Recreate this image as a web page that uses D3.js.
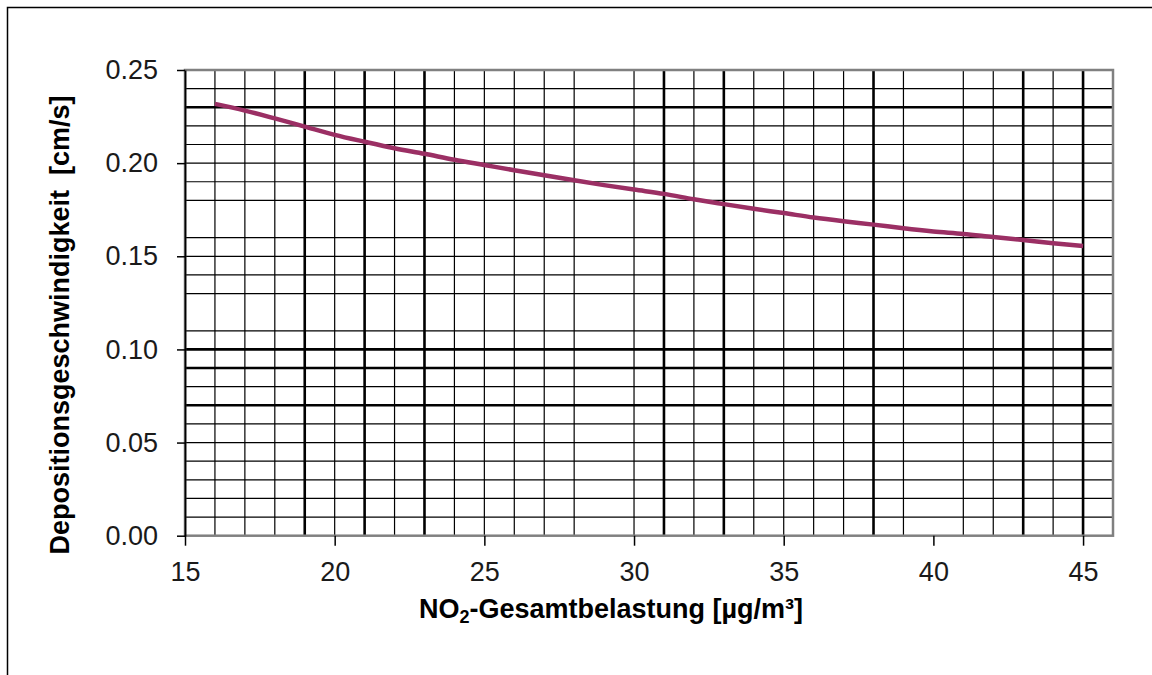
<!DOCTYPE html>
<html lang="de">
<head>
<meta charset="UTF-8">
<title>Depositionsgeschwindigkeit NO2</title>
<script src="https://d3js.org/d3.v7.min.js"></script>
<style>
  body { margin: 0; background: #fff; }
  svg { display: block; font-family: "Liberation Sans", Arial, sans-serif; }
  .tick text { font-size: 27px; fill: #1a1a1a; }
  .axis-title { font-size: 27px; font-weight: bold; fill: #000; }
</style>
</head>
<body>
<svg width="1152" height="675"></svg>
<script>
// NO2 total load [µg/m³] and deposition velocity [cm/s]
const no2 = [16, 17, 18, 19, 20, 21, 22, 23, 24, 25, 26, 27, 28, 29, 30,
             31, 32, 33, 34, 35, 36, 37, 38, 39, 40, 41, 42, 43, 44, 45];
const velocity = [0.2318, 0.2282, 0.2240, 0.2196, 0.2152, 0.2115, 0.2080, 0.2050, 0.2018, 0.1990,
                  0.1962, 0.1935, 0.1908, 0.1882, 0.1858, 0.1835, 0.1806, 0.1780, 0.1755, 0.1732,
                  0.1708, 0.1688, 0.1670, 0.1650, 0.1633, 0.1620, 0.1603, 0.1587, 0.1570, 0.1555];

const xTicks = [15, 20, 25, 30, 35, 40, 45];
const yTicks = [0, 0.05, 0.10, 0.15, 0.20, 0.25];

// grid lines as they appear in the scan (some missing, some heavier)
const xGrid = [16, 17, 18, 19, 20, 21, 22, 23, 24, 25, 26, 27, 28, 30, 31, 32, 33, 34, 35,
               36, 37, 38, 39, 41, 42, 43, 44, 45];
const xGridBold = [19, 21, 23, 31, 33, 38, 43, 45];
const yGrid = [0.01, 0.02, 0.03, 0.04, 0.05, 0.06, 0.07, 0.08, 0.09, 0.10, 0.11, 0.13, 0.14,
               0.15, 0.16, 0.18, 0.19, 0.20, 0.21, 0.22, 0.23, 0.24];
const yGridBold = [0.07, 0.09, 0.10, 0.23];

const svg = d3.select("svg");

// outer frame of the figure
svg.append("rect")
    .attr("x", 7.5).attr("y", 7.5)
    .attr("width", 1160).attr("height", 700)
    .attr("fill", "none")
    .attr("stroke", "#000")
    .attr("stroke-width", 1.5);

const x = d3.scaleLinear().domain([15, 46]).range([185, 1113]);
const y = d3.scaleLinear().domain([0, 0.25]).range([535.7, 70]);

const grid = svg.append("g");
grid.selectAll(".vgrid")
    .data(xGrid)
    .enter().append("line")
    .attr("x1", d => x(d)).attr("x2", d => x(d))
    .attr("y1", y(0)).attr("y2", y(0.25))
    .attr("stroke", "#000")
    .attr("stroke-width", d => xGridBold.includes(d) ? 2.6 : 1.2);

grid.selectAll(".hgrid")
    .data(yGrid)
    .enter().append("line")
    .attr("x1", x(15)).attr("x2", x(46))
    .attr("y1", d => y(d)).attr("y2", d => y(d))
    .attr("stroke", "#000")
    .attr("stroke-width", d => yGridBold.some(b => Math.abs(b - d) < 1e-9) ? 2.6 : 1.2);

// plot area border
svg.append("rect")
    .attr("x", x(15)).attr("y", y(0.25))
    .attr("width", x(46) - x(15)).attr("height", y(0) - y(0.25))
    .attr("fill", "none")
    .attr("stroke", "#808080")
    .attr("stroke-width", 2.5);

const xAxis = svg.append("g")
    .attr("transform", "translate(0," + y(0) + ")")
    .call(d3.axisBottom(x).tickValues(xTicks).tickSize(10).tickPadding(16).tickFormat(d3.format("d")));
xAxis.select(".domain").remove();
xAxis.selectAll(".tick line").attr("stroke", "#000").attr("stroke-width", 1.5);

const yAxis = svg.append("g")
    .attr("transform", "translate(" + x(15) + ",0)")
    .call(d3.axisLeft(y).tickValues(yTicks).tickSize(8).tickPadding(19).tickSizeOuter(0).tickFormat(d3.format(".2f")));
yAxis.select(".domain").attr("stroke", "#000").attr("stroke-width", 1.8);
yAxis.selectAll(".tick line").attr("stroke", "#000").attr("stroke-width", 1.5);

// curve
const line = d3.line()
    .x((d, i) => x(no2[i]))
    .y(d => y(d))
    .curve(d3.curveMonotoneX);

svg.append("path")
    .datum(velocity)
    .attr("d", line)
    .attr("fill", "none")
    .attr("stroke", "#9b2f64")
    .attr("stroke-width", 4.5)
    .attr("stroke-linecap", "butt");

// axis titles
const xt = svg.append("text")
    .attr("class", "axis-title")
    .attr("x", 611).attr("y", 618)
    .attr("text-anchor", "middle");
xt.append("tspan").text("NO");
xt.append("tspan").attr("dy", 5).attr("font-size", "18px").text("2");
xt.append("tspan").attr("dy", -5).text("-Gesamtbelastung [µg/m³]");

svg.append("text")
    .attr("class", "axis-title")
    .attr("transform", "translate(69,325) rotate(-90)")
    .attr("text-anchor", "middle")
    .attr("xml:space", "preserve")
    .style("white-space", "pre")
    .text("Depositionsgeschwindigkeit  [cm/s]");
</script>
</body>
</html>
